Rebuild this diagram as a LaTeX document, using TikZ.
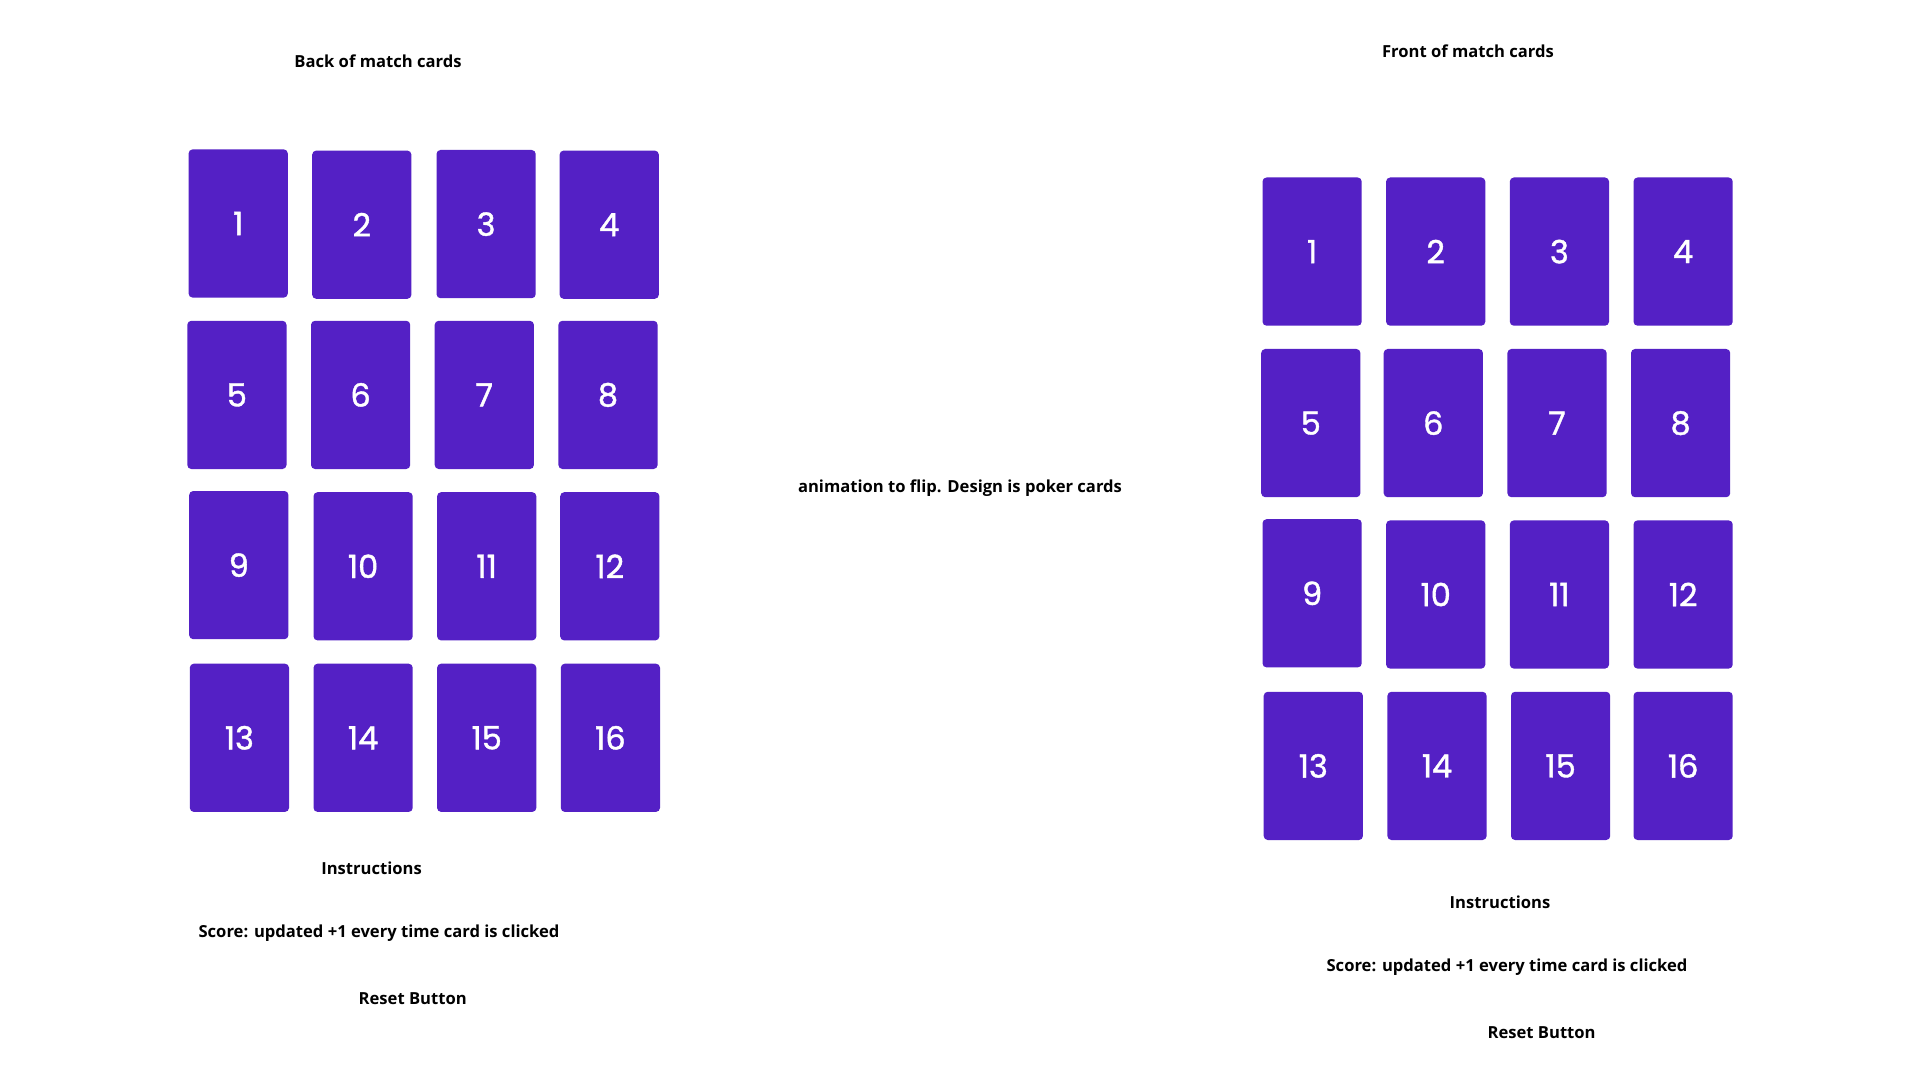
\documentclass[tikz,border=0pt]{standalone}
\usepackage{fontspec}
\setmainfont{Open Sans}
\newfontfamily\numfont{Poppins}[FakeBold=1.2]
\definecolor{cardpurple}{RGB}{84,32,197}
\tikzset{
  card/.style={fill=cardpurple, draw=none, rounded corners=2pt, minimum width=49.6pt, minimum height=74.1pt, inner sep=0pt, text=white, font=\numfont\fontsize{16}{18}\selectfont},
  lbl/.style={font=\bfseries\fontsize{8.3}{10}\selectfont, text=black, inner sep=0pt, yshift=-1.2pt}
}
\begin{document}
\begin{tikzpicture}[x=0.5pt,y=-0.5pt]
\useasboundingbox[fill=white] (0,0) rectangle (1920,1080);
% back cards
\foreach \n/\x/\y in {1/238.2/223.5, 2/361.8/224.7, 3/486.1/224.1, 4/609.2/224.7,
  5/236.9/394.9, 6/360.6/394.9, 7/484.3/394.9, 8/608.0/394.9,
  9/238.8/565.1, 10/363.1/566.3, 11/486.7/566.3, 12/609.8/566.3,
  13/239.4/737.8, 14/363.1/737.8, 15/486.7/737.8, 16/610.4/737.8}
  \node[card] (b\n) at (\x,\y) {\n};
% front cards
\foreach \n/\x/\y in {1/1312.1/251.6, 2/1435.7/251.6, 3/1559.4/251.6, 4/1683.1/251.6,
  5/1310.8/423.1, 6/1433.3/423.1, 7/1557.0/423.1, 8/1680.6/423.1,
  9/1312.1/593.3, 10/1435.7/594.5, 11/1559.4/594.5, 12/1683.1/594.5,
  13/1313.3/765.9, 14/1437.0/765.9, 15/1560.6/765.9, 16/1683.1/765.9}
  \node[card] (f\n) at (\x,\y) {\n};
\node[lbl] (backtitle) at (378,59) {Back of match cards};
\node[lbl] (fronttitle) at (1468,49) {Front of match cards};
\node[lbl] (anim) at (960,486) {animation to flip. Design is poker cards};
\node[lbl] (instrL) at (371.6,865.7) {Instructions};
\node[lbl] (scoreL) at (379,930.6) {Score: updated +1 every time card is clicked};
\node[lbl] (resetL) at (412.7,996.7) {Reset Button};
\node[lbl] (instrR) at (1500,900) {Instructions};
\node[lbl] (scoreR) at (1507,965) {Score: updated +1 every time card is clicked};
\node[lbl] (resetR) at (1541.6,1029.8) {Reset Button};
\end{tikzpicture}
\end{document}
